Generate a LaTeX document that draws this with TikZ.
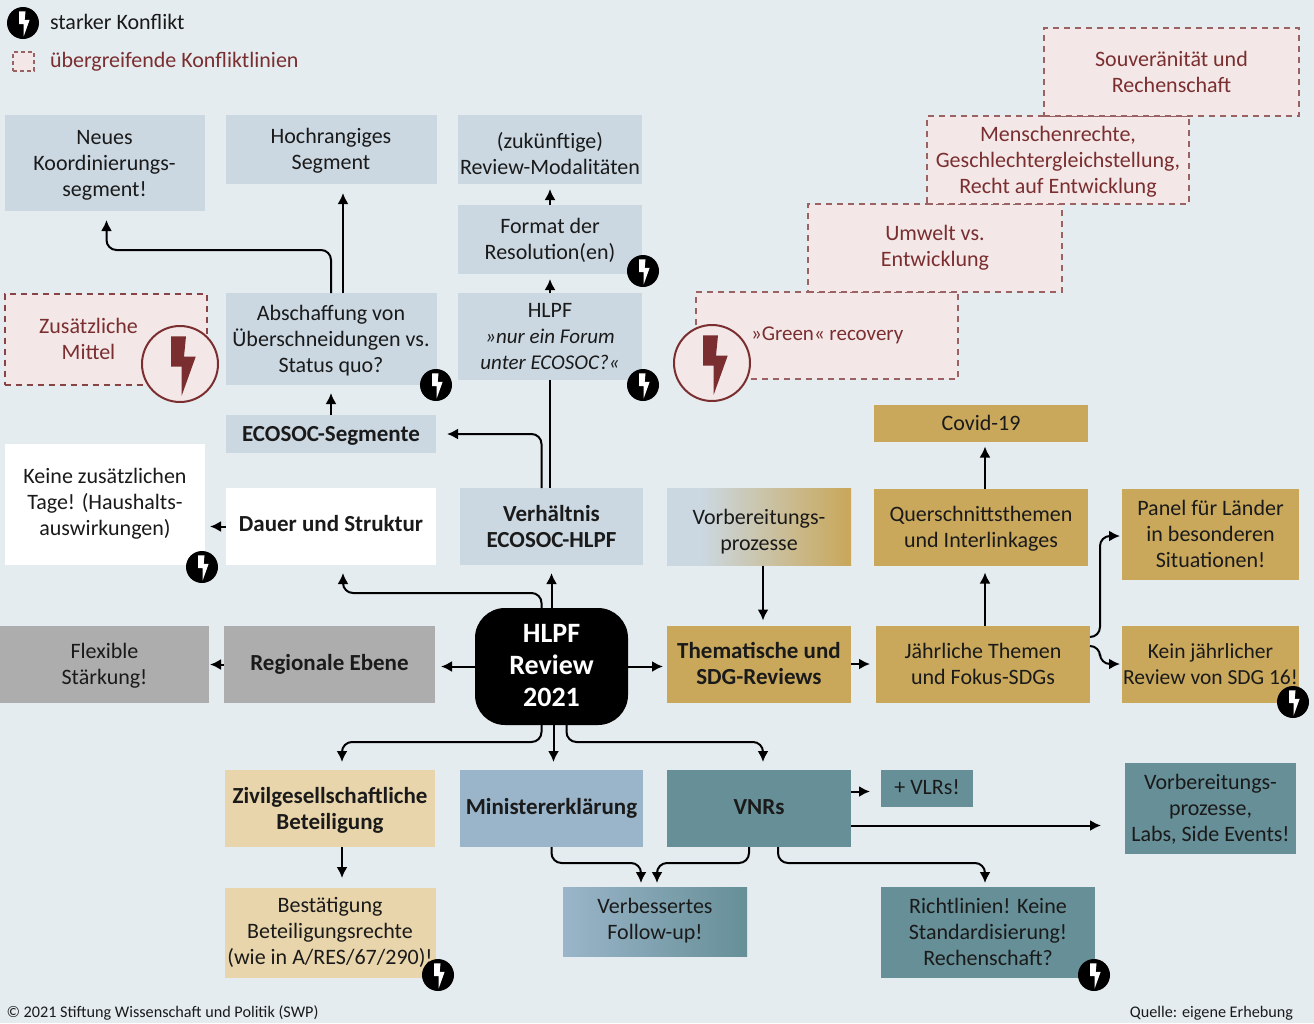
\documentclass[tikz,border=0pt]{standalone}
\usepackage{fontspec}
\setmainfont{Carlito}
\usetikzlibrary{arrows.meta,positioning}
\definecolor{pagebg}{HTML}{E4ECF0}
\definecolor{boxblue}{HTML}{CBD8E2}
\definecolor{boxpink}{HTML}{F3E8E7}
\definecolor{conflictred}{HTML}{7A2E30}
\definecolor{boxgold}{HTML}{C9A85C}
\definecolor{boxgrey}{HTML}{ADADAD}
\definecolor{boxsand}{HTML}{E9D5AB}
\definecolor{boxsteel}{HTML}{9AB5C9}
\definecolor{boxteal}{HTML}{668F97}
\definecolor{inktext}{HTML}{1A1A1A}
\pgfdeclarehorizontalshading{bluegold}{100bp}{color(0bp)=(boxblue); color(34bp)=(boxblue); color(74bp)=(boxgold); color(100bp)=(boxgold)}
\tikzset{
    review map/.style={
        x=1pt,y=-1pt,>={Latex[length=11pt,width=11pt]},line width=2pt,
        font=\fontsize{22}{26}\selectfont,text=inktext,
        every node/.style={inner sep=0pt,outer sep=0pt,align=flush center},
    },
    strutted/.style={
        execute at begin node={\rule{0pt}{1em}},
        execute at end node={\rule[-.32em]{0pt}{.32em}},
    },
    lowered/.style={execute at begin node={\rule{0pt}{#1}}},
    raised/.style={execute at end node={\rule[-#1]{0pt}{#1}}},
    sized/.style 2 args={minimum width=#1pt,minimum height=#2pt,text width=#1pt,strutted},
    boldtext/.style={font=\fontsize{23}{26}\selectfont\bfseries},
    bluebox/.style={fill=boxblue},
    goldbox/.style={fill=boxgold},
    whitebox/.style={fill=white},
    greybox/.style={fill=boxgrey},
    sandbox/.style={fill=boxsand},
    tealbox/.style={fill=boxteal},
    linebox/.style={fill=boxpink,draw=conflictred!75,line width=1.6pt,dash pattern=on 6pt off 5pt,text=conflictred},
    arrow/.style={->,shorten >=8pt},
    bend path/.style={arrow,rounded corners=10pt},
}
\newcommand{\boltpath}{(-9,-27.7)--(6,-27.7)--(4,-7.3)--(15.7,-7.3)--(1.7,31.7)--(1.7,2.7)--(-9,2.7)--cycle}
\newcommand{\strongmark}[3]{
    \node[circle,fill=black,minimum size=32pt] (#1) at (#2,#3) {};
    \fill[white,shift={(#2,#3)},scale=.42] \boltpath;
}
\newcommand{\linemark}[3]{
    \node[circle,fill=boxpink,draw=conflictred,line width=2pt,minimum size=76pt] (#1) at (#2,#3) {};
    \fill[conflictred,shift={(#2,#3)}] \boltpath;
}

\begin{document}
\begin{tikzpicture}[review map]
        \fill[pagebg] (0,0) rectangle (1314,1023);
        \useasboundingbox (0,0) rectangle (1314,1023);

        % centre and the row it sits on
        \node[sized={153}{117},raised=13pt,fill=black,rounded corners=30pt,text=white,font=\fontsize{28}{32}\selectfont\bfseries] (hub) at (551.5,666.5) {HLPF\\Review\\2021};
        \node[goldbox,sized={184}{77},right=39pt of hub,yshift=2.5pt,boldtext] (thema) {Thematische und\\SDG-Reviews};
        \node[goldbox,sized={214}{77},right=25pt of thema] (jahr) {Jährliche Themen\\und Fokus-SDGs};
        \node[goldbox,sized={177}{77},right=32pt of jahr,font=\fontsize{21.5}{26}\selectfont] (kein) {Kein jährlicher\\Review von SDG 16!};
        \node[greybox,sized={211}{77},raised=11.5pt,left=40pt of hub,yshift=2pt,boldtext] (regional) {Regionale Ebene};
        \node[greybox,sized={209}{77},left=15pt of regional] (flexibel) {Flexible\\Stärkung!};

        % row above
        \node[bluebox,sized={183}{77},above=43pt of hub,boldtext] (verh) {Verhältnis\\ECOSOC-HLPF};
        \node[sized={184}{77},lowered=29pt,shading=bluegold,above=60pt of thema] (vorbgold) {Vorbereitungs-\\prozesse};
        \node[goldbox,sized={214}{77},above=60pt of jahr,xshift=-2pt] (quer) {Querschnittsthemen\\und Interlinkages};
        \node[goldbox,sized={214}{37},above=47pt of quer] (covid) {Covid-19};
        \node[goldbox,sized={177}{91},above=46pt of kein] (panel) {Panel für Länder\\in besonderen\\Situationen!};
        \node[whitebox,sized={210}{77},raised=13pt,above=61pt of regional,xshift=1.5pt,boldtext] (dauer) {Dauer und Struktur};
        \node[whitebox,sized={200}{121},raised=12pt,left=21pt of dauer.south west,anchor=south east] (keine) {Keine zusätzlichen\\Tage! (Haushalts-\\auswirkungen)};

        % upper left and middle
        \node[bluebox,sized={210}{38},above=35pt of dauer,boldtext] (segmente) {ECOSOC-Segmente};
        \node[bluebox,sized={211}{92},above=30pt of segmente] (abschaffung) {Abschaffung von\\Überschneidungen vs.\\Status quo?};
        \node[bluebox,sized={211}{69},above=109pt of abschaffung] (hochrang) {Hochrangiges\\Segment};
        \node[bluebox,sized={200}{96},left=21pt of hochrang.north west,anchor=north east] (neues) {Neues\\Koordinierungs-\\segment!};
        \node[bluebox,sized={184}{87},above=108pt of verh,xshift=-1.5pt] (hlpf) {HLPF\\{\fontsize{21}{26}\selectfont\itshape »nur ein Forum}\\{\fontsize{21}{26}\selectfont\itshape unter ECOSOC?«}};
        \node[bluebox,sized={184}{69},above=19pt of hlpf] (format) {Format der\\Resolution(en)};
        \node[bluebox,sized={184}{69},lowered=31pt,above=21pt of format] (modal) {(zukünftige)\\Review-Modalitäten};

        % conflict lines
        \node[linebox,sized={202}{91},left=19pt of abschaffung,draw=conflictred!90,line width=2pt] (zusatz) {};
        \node[strutted,text width=120pt,text=conflictred,xshift=-17pt] (zusatztext) at (zusatz.center) {Zusätzliche\\Mittel};
        \node[linebox,sized={262}{87},right=54pt of hlpf,yshift=1pt] (green) {};
        \node[strutted,raised=13pt,text=conflictred,right=55pt of green.west,yshift=-1pt,font=\fontsize{21}{26}\selectfont] (greentext) {»Green« recovery};
        \node[linebox,sized={254}{88},raised=11pt,above right=0pt and 112pt of green.north west] (umwelt) {Umwelt vs.\\Entwicklung};
        \node[linebox,sized={262}{88},above right=0pt and 119pt of umwelt.north west] (menschen) {Menschenrechte,\\Geschlechtergleichstellung,\\Recht auf Entwicklung};
        \node[linebox,sized={255}{88},above right=0pt and 117pt of menschen.north west] (souveran) {Souveränität und\\Rechenschaft};
        \linemark{zusatzmark}{180}{364}
        \linemark{greenmark}{712}{363}

        % rows below
        \node[fill=boxsteel,sized={183}{77},raised=12pt,below=45pt of hub,boldtext] (minister) {Ministererklärung};
        \node[tealbox,sized={184}{77},raised=12pt,right=24pt of minister,boldtext] (vnr) {VNRs};
        \node[sandbox,sized={210}{77},left=25pt of minister,boldtext] (zivil) {Zivilgesellschaftliche\\Beteiligung};
        \node[sandbox,sized={211}{90},raised=11pt,below=41pt of zivil] (bestaetigung) {Bestätigung\\Beteiligungsrechte\\(wie in A/RES/67/290)!};
        \node[tealbox,sized={92}{37},raised=11pt,right=30pt of vnr.north east,anchor=north west] (vlr) {+ VLRs!};
        \node[tealbox,sized={171}{91},right=274pt of vnr] (vorbteal) {Vorbereitungs-\\prozesse,\\Labs, Side Events!};
        \node[left color=boxsteel,right color=boxteal,sized={184}{69},raised=12pt,below right=40pt and 103pt of minister.south west] (followup) {Verbessertes\\Follow-up!};
        \node[tealbox,sized={214}{91},below right=40pt and 30pt of vnr.south east] (richtlinien) {Richtlinien! Keine\\Standardisierung!\\Rechenschaft?};

        % connectors
        \draw[bend path] ([xshift=-10pt]hub.north) |- ([xshift=12pt,yshift=-28pt]dauer.south) -- ([xshift=12pt]dauer.south);
        \draw[arrow] (hub.north) -- (verh.south);
        \draw ([xshift=-1.5pt]verh.north) -- (hlpf.south);
        \draw[bend path,shorten >=11pt] ([xshift=-10pt]verh.north) |- (segmente.east);
        \draw[arrow] (segmente.north) -- (abschaffung.south);
        \draw[arrow,shorten >=9pt] ([xshift=12pt]abschaffung.north) -- ([xshift=12pt]hochrang.south);
        \draw[bend path,shorten >=9pt] (abschaffung.north) |- ([xshift=2pt,yshift=-39pt]neues.south) -- ([xshift=2pt]neues.south);
        \draw[arrow,shorten >=5pt] (hlpf.north) -- (format.south);
        \draw[arrow,shorten >=5pt] (format.north) -- (modal.south);
        \draw[arrow,shorten >=5pt] (dauer.west) -- (dauer.west -| keine.east);
        \draw[arrow,shorten >=6pt] (hub.west) -- (hub.west -| regional.east);
        \draw[arrow,shorten >=1pt] (regional.west) -- (flexibel.east);
        \draw[arrow,shorten >=4pt] (hub.east) -- (hub.east -| thema.west);
        \draw[arrow,shorten >=6pt] (thema.east) -- (jahr.west);
        \draw[arrow,shorten >=5pt] ([xshift=4pt]vorbgold.south) -- ([xshift=4pt]thema.north);
        \draw[arrow,shorten >=7pt] ([xshift=2pt]jahr.north) -- ([xshift=4pt]quer.south);
        \draw[arrow,shorten >=5pt] ([xshift=4pt]quer.north) -- ([xshift=4pt]covid.south);
        \draw[bend path,shorten >=2pt] ([yshift=27pt]jahr.east) -- ++(10,0) |- ([yshift=-2pt]panel.west);
        \draw[bend path,shorten >=2pt] ([yshift=18pt]jahr.east) -- ++(10,0) |- (kein.west);
        \draw[bend path] ([xshift=-10pt]hub.south) |- ([xshift=12pt,yshift=28pt]zivil.north) -- ([xshift=12pt]zivil.north);
        \draw[arrow] ([xshift=2pt]hub.south) -- ([xshift=2pt]minister.north);
        \draw[bend path] ([xshift=15pt]hub.south) |- ([xshift=4pt,yshift=28pt]vnr.north) -- ([xshift=4pt]vnr.north);
        \draw[arrow,shorten >=10pt] ([xshift=12pt]zivil.south) -- ([xshift=12pt]bestaetigung.north);
        \draw[bend path,shorten >=4pt] (minister.south) |- ([xshift=-14pt,yshift=24pt]followup.north) -- ([xshift=-14pt]followup.north);
        \draw[bend path,shorten >=4pt] ([xshift=-10pt]vnr.south) |- ([xshift=2pt,yshift=24pt]followup.north) -- ([xshift=2pt]followup.north);
        \draw[bend path,shorten >=4pt] ([xshift=19pt]vnr.south) |- ([xshift=-3pt,yshift=24pt]richtlinien.north) -- ([xshift=-3pt]richtlinien.north);
        \draw[arrow,shorten >=11pt] ([yshift=17pt]vnr.east) -- ([yshift=17pt]vnr.east -| vlr.west);
        \draw[arrow,shorten >=24pt] ([yshift=-17pt]vnr.east) -- ([yshift=-17pt]vnr.east -| vorbteal.west);

        % conflict marks
        \strongmark{markformat}{643}{271}
        \strongmark{markabsch}{436}{385}
        \strongmark{markhlpf}{643}{385}
        \strongmark{markkeine}{202}{567}
        \strongmark{markkein}{1293}{702}
        \strongmark{markbest}{438}{975}
        \strongmark{markricht}{1094}{975}

        % legend and notes
        \strongmark{legendmark}{23}{23}
        \node[strutted,right=11pt of legendmark,yshift=1pt] (legendstrong) {starker Konflikt};
        \node[linebox,minimum width=21pt,minimum height=19pt,dash pattern=on 4pt off 3pt] (legendline) at (23.5,61.5) {};
        \node[strutted,text=conflictred,anchor=west] (legendcross) at (50,60) {übergreifende Konfliktlinien};
        \node[anchor=west,font=\fontsize{16.2}{19}\selectfont] (rights) at (6.5,1013) {© 2021 Stiftung Wissenschaft und Politik (SWP)};
        \node[anchor=east,font=\fontsize{16.2}{19}\selectfont] (source) at (1293,1013) {Quelle: eigene Erhebung};
    \end{tikzpicture}
\end{document}
